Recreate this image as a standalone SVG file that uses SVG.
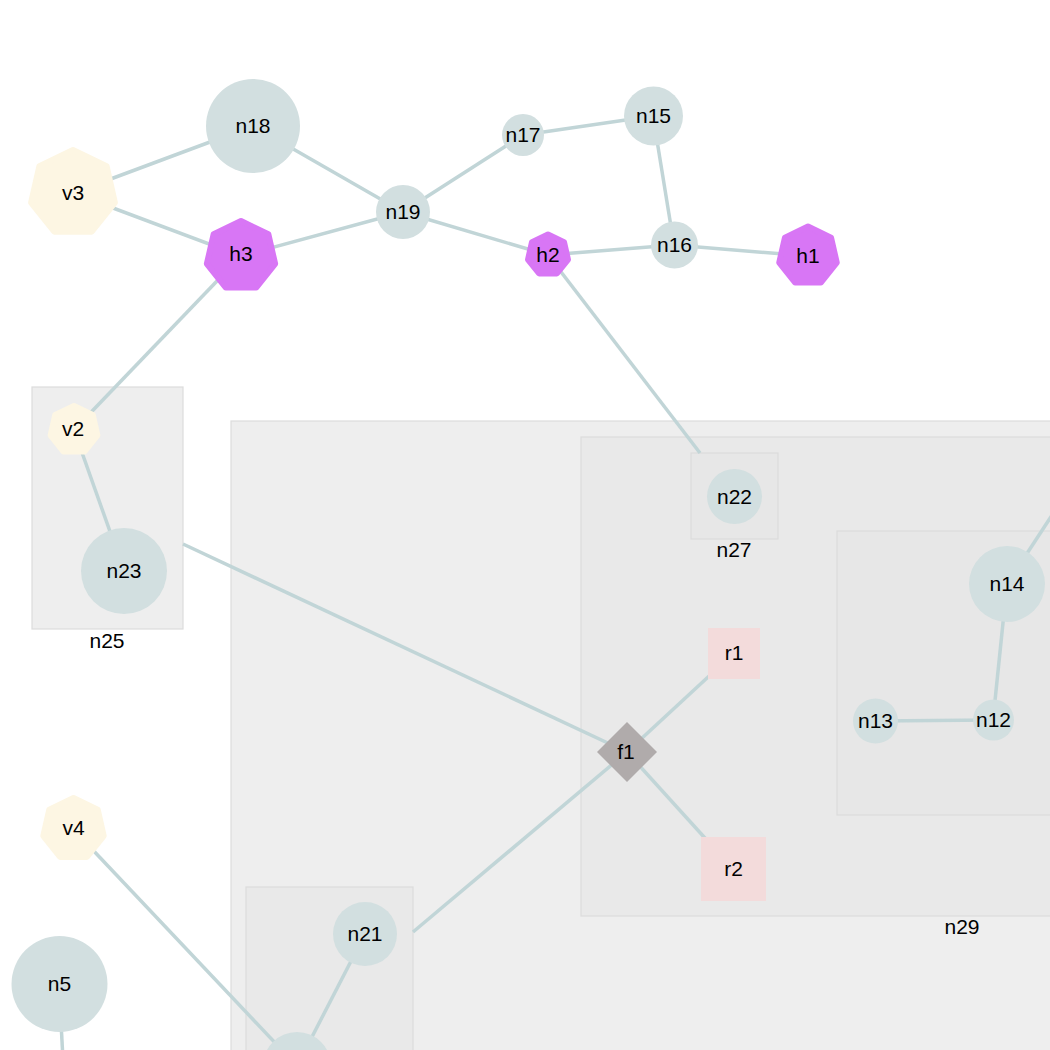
<svg xmlns="http://www.w3.org/2000/svg" width="1050" height="1050" viewBox="0 0 1050 1050">
  <style>
    .box { stroke: #dcdcdc; stroke-width: 1.2; }
    .edge { stroke: #c1d5d7; stroke-width: 3.5; fill: none; stroke-linecap: butt; }
    .circ { fill: #d2dfe0; }
    .hept-v { fill: #fdf6e3; stroke: #fdf6e3; stroke-width: 6; stroke-linejoin: round; }
    .hept-h { fill: #d876f5; stroke: #d876f5; stroke-width: 6; stroke-linejoin: round; }
    .rect-r { fill: #f3dbdb; }
    .diamond { fill: #b0abab; }
    text { font-family: "Liberation Sans", Arial, sans-serif; font-size: 21px; fill: #000; text-anchor: middle; }
  </style>
  <rect width="1050" height="1050" fill="#ffffff"/>

  <!-- clusters -->
  <g id="clusters">
    <g id="n30"><rect class="box" x="231" y="421" width="900" height="700" fill="#eeeeee"/></g>
    <g id="n29">
      <rect class="box" x="581" y="437" width="762" height="479" fill="#e9e9e9"/>
      <text x="962" y="934">n29</text>
    </g>
    <g id="n28"><rect class="box" x="837" y="531" width="400" height="284" fill="#e7e7e7"/></g>
    <g id="n27">
      <rect class="box" x="691" y="453" width="87" height="86" fill="#e7e7e7"/>
      <text x="734" y="557">n27</text>
    </g>
    <g id="n25">
      <rect class="box" x="32" y="387" width="151" height="242" fill="#eeeeee"/>
      <text x="107" y="648">n25</text>
    </g>
    <g id="n26"><rect class="box" x="246" y="887" width="167" height="200" fill="#e9e9e9"/></g>
  </g>

  <!-- connectors -->
  <g id="edges">
    <line class="edge" x1="73" y1="193" x2="253" y2="126"/>
    <line class="edge" x1="73" y1="193" x2="241" y2="256"/>
    <line class="edge" x1="253" y1="126" x2="403" y2="212"/>
    <line class="edge" x1="241" y1="256" x2="403" y2="212"/>
    <line class="edge" x1="403" y1="212" x2="523" y2="135"/>
    <line class="edge" x1="523" y1="135" x2="653" y2="116"/>
    <line class="edge" x1="403" y1="212" x2="548" y2="255"/>
    <line class="edge" x1="548" y1="255" x2="674" y2="245"/>
    <line class="edge" x1="653" y1="116" x2="674" y2="245"/>
    <line class="edge" x1="674" y1="245" x2="808" y2="256"/>
    <line class="edge" x1="241" y1="256" x2="74" y2="430"/>
    <line class="edge" x1="548" y1="255" x2="700" y2="453"/>
    <line class="edge" x1="74" y1="430" x2="124" y2="571"/>
    <line class="edge" x1="183" y1="544" x2="627" y2="752"/>
    <line class="edge" x1="627" y1="752" x2="734" y2="653"/>
    <line class="edge" x1="627" y1="752" x2="733" y2="869"/>
    <line class="edge" x1="413" y1="932" x2="627" y2="752"/>
    <line class="edge" x1="1007" y1="584" x2="1060" y2="503"/>
    <line class="edge" x1="1007" y1="584" x2="993" y2="720"/>
    <line class="edge" x1="993" y1="720" x2="875" y2="721"/>
    <line class="edge" x1="73" y1="829" x2="297" y2="1066"/>
    <line class="edge" x1="365" y1="934" x2="297" y2="1066"/>
    <line class="edge" x1="59" y1="984" x2="63" y2="1060"/>
  </g>

  <!-- nodes -->
  <g id="v3"><polygon class="hept-v" points="73,150 106.62,166.19 114.92,202.57 91.66,231.74 54.34,231.74 31.08,202.57 39.38,166.19"/><text x="73" y="200">v3</text></g>
  <g id="n18"><circle class="circ" cx="253" cy="126" r="47"/><text x="253" y="133">n18</text></g>
  <g id="h3"><polygon class="hept-h" points="241,221 268.36,234.18 275.12,263.79 256.19,287.53 225.81,287.53 206.88,263.79 213.64,234.18"/><text x="241" y="261">h3</text></g>
  <g id="n19"><circle class="circ" cx="403" cy="212" r="27"/><text x="403" y="219">n19</text></g>
  <g id="n17"><circle class="circ" cx="523" cy="135" r="21"/><text x="523" y="142">n17</text></g>
  <g id="n15"><circle class="circ" cx="653.5" cy="116" r="29.5"/><text x="653.5" y="123">n15</text></g>
  <g id="h2"><polygon class="hept-h" points="548,234.5 564.03,242.22 567.99,259.56 556.89,273.47 539.11,273.47 528.01,259.56 531.97,242.22"/><text x="548" y="262">h2</text></g>
  <g id="n16"><circle class="circ" cx="674.5" cy="245" r="23.5"/><text x="674.5" y="252">n16</text></g>
  <g id="h1"><polygon class="hept-h" points="808,226.5 831.06,237.61 836.76,262.56 820.8,282.58 795.2,282.58 779.24,262.56 784.94,237.61"/><text x="808" y="263">h1</text></g>
  <g id="v2"><polygon class="hept-v" points="74,406 92.76,415.04 97.4,435.34 84.41,451.62 63.59,451.62 50.6,435.34 55.24,415.04"/><text x="73" y="436">v2</text></g>
  <g id="n23"><circle class="circ" cx="124" cy="571" r="43"/><text x="124" y="578">n23</text></g>
  <g id="n22"><circle class="circ" cx="734.5" cy="496.5" r="27.5"/><text x="734.5" y="503.5">n22</text></g>
  <g id="n14"><circle class="circ" cx="1007" cy="584" r="38"/><text x="1007" y="591">n14</text></g>
  <g id="n12"><circle class="circ" cx="993.5" cy="720" r="20.5"/><text x="993.5" y="727">n12</text></g>
  <g id="n13"><circle class="circ" cx="875.5" cy="721" r="22.5"/><text x="875.5" y="728">n13</text></g>
  <g id="r1"><rect class="rect-r" x="708" y="628" width="52" height="51"/><text x="734" y="660">r1</text></g>
  <g id="r2"><rect class="rect-r" x="701" y="837" width="65" height="64"/><text x="733.5" y="876">r2</text></g>
  <g id="f1"><polygon class="diamond" points="627,722 657,752 627,782 597,752"/><text x="626" y="759">f1</text></g>
  <g id="v4"><polygon class="hept-v" points="73.5,798 97.74,809.67 103.72,835.9 86.95,856.93 60.05,856.93 43.28,835.9 49.26,809.67"/><text x="73.5" y="835">v4</text></g>
  <g id="n5"><circle class="circ" cx="59.5" cy="984" r="48"/><text x="59.5" y="991">n5</text></g>
  <g id="n21"><circle class="circ" cx="365" cy="934" r="32"/><text x="365" y="941">n21</text></g>
  <g id="n20"><circle class="circ" cx="297" cy="1066" r="34"/></g>
</svg>
